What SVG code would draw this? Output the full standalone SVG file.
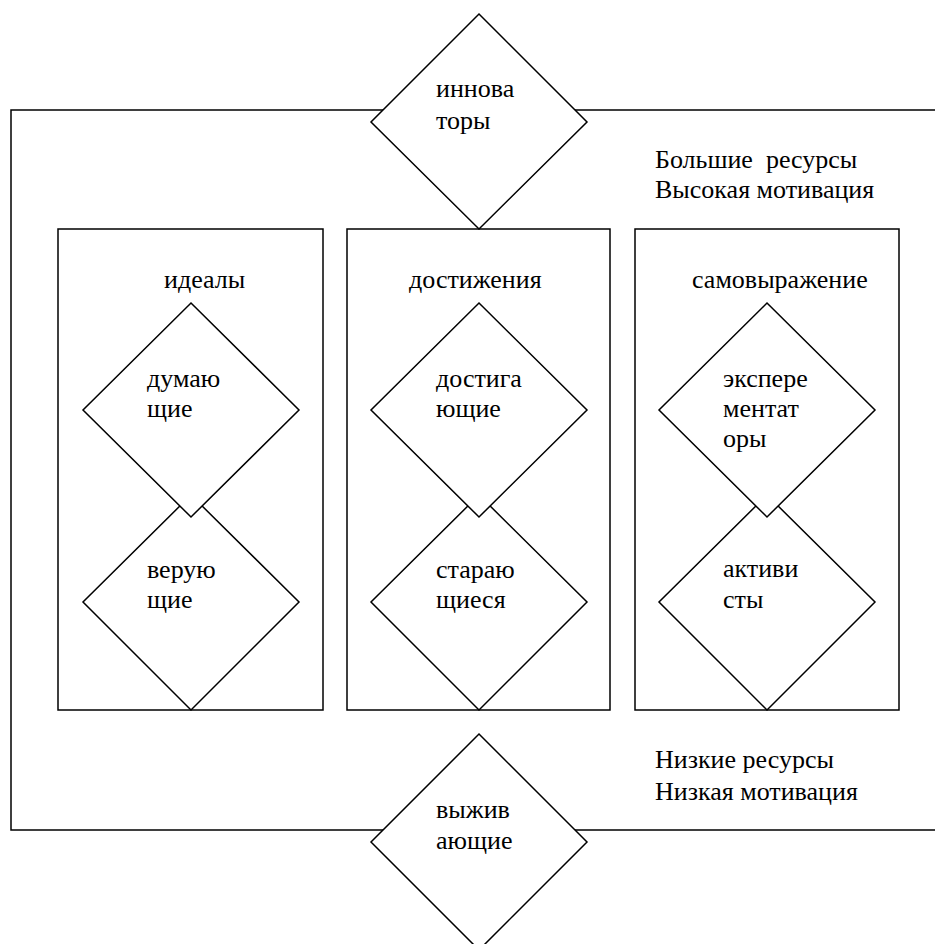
<svg xmlns="http://www.w3.org/2000/svg" width="935" height="944" viewBox="0 0 935 944">
<style>
.ln{fill:none;stroke:#000;stroke-width:1.5}
.box{fill:#fff;stroke:#000;stroke-width:1.5}
.dm{fill:#fff;stroke:#000;stroke-width:1.5;stroke-linejoin:miter}
text{font-family:"Liberation Serif","Times New Roman",serif;font-size:26px;fill:#000}
</style>
<rect width="935" height="944" fill="#fff"/>
<g id="frame"><path class="ln" d="M936,110 H11 V830 H936"/></g>
<g id="connectors"/>
<g id="box-idealy"><rect class="box" x="58" y="229" width="265" height="481"/><text x="164" y="288">идеалы</text></g>
<g id="box-dostizheniya"><rect class="box" x="347" y="229" width="263" height="481"/><text x="409" y="288">достижения</text></g>
<g id="box-samovyrazhenie"><rect class="box" x="635" y="229" width="264" height="481"/><text x="692" y="288">самовыражение</text></g>
<g id="veruyushchie"><path class="dm" d="M191,495 L299,602 L191,710 L83,602 Z"/><text x="147" y="578">верую</text><text x="147" y="608">щие</text></g>
<g id="dumayushchie"><path class="dm" d="M191,303 L299,410 L191,517 L83,410 Z"/><text x="147" y="387">думаю</text><text x="147" y="417">щие</text></g>
<g id="starayushchiesya"><path class="dm" d="M479,495 L587,602 L479,710 L371,602 Z"/><text x="436" y="578">стараю</text><text x="436" y="608">щиеся</text></g>
<g id="dostigayushchie"><path class="dm" d="M479,303 L587,410 L479,517 L371,410 Z"/><text x="436" y="387">достига</text><text x="436" y="417">ющие</text></g>
<g id="aktivisty"><path class="dm" d="M767,495 L875,602 L767,710 L659,602 Z"/><text x="723" y="577">активи</text><text x="723" y="608">сты</text></g>
<g id="eksperementatory"><path class="dm" d="M767,303 L875,410 L767,517 L659,410 Z"/><text x="723" y="387">экспере</text><text x="723" y="417">ментат</text><text x="723" y="447">оры</text></g>
<g id="innovatory"><path class="dm" d="M479,14 L587,122 L479,229 L371,122 Z"/><text x="436" y="97">иннова</text><text x="436" y="129">торы</text></g>
<g id="vyzhivayushchie"><path class="dm" d="M479,734 L587,842 L479,950 L371,842 Z"/><text x="436" y="818">выжив</text><text x="436" y="849">ающие</text></g>
<g id="label-high"><text x="655" y="168" xml:space="preserve">Большие  ресурсы</text><text x="655" y="198">Высокая мотивация</text></g>
<g id="label-low"><text x="655" y="768">Низкие ресурсы</text><text x="655" y="800">Низкая мотивация</text></g>
</svg>
